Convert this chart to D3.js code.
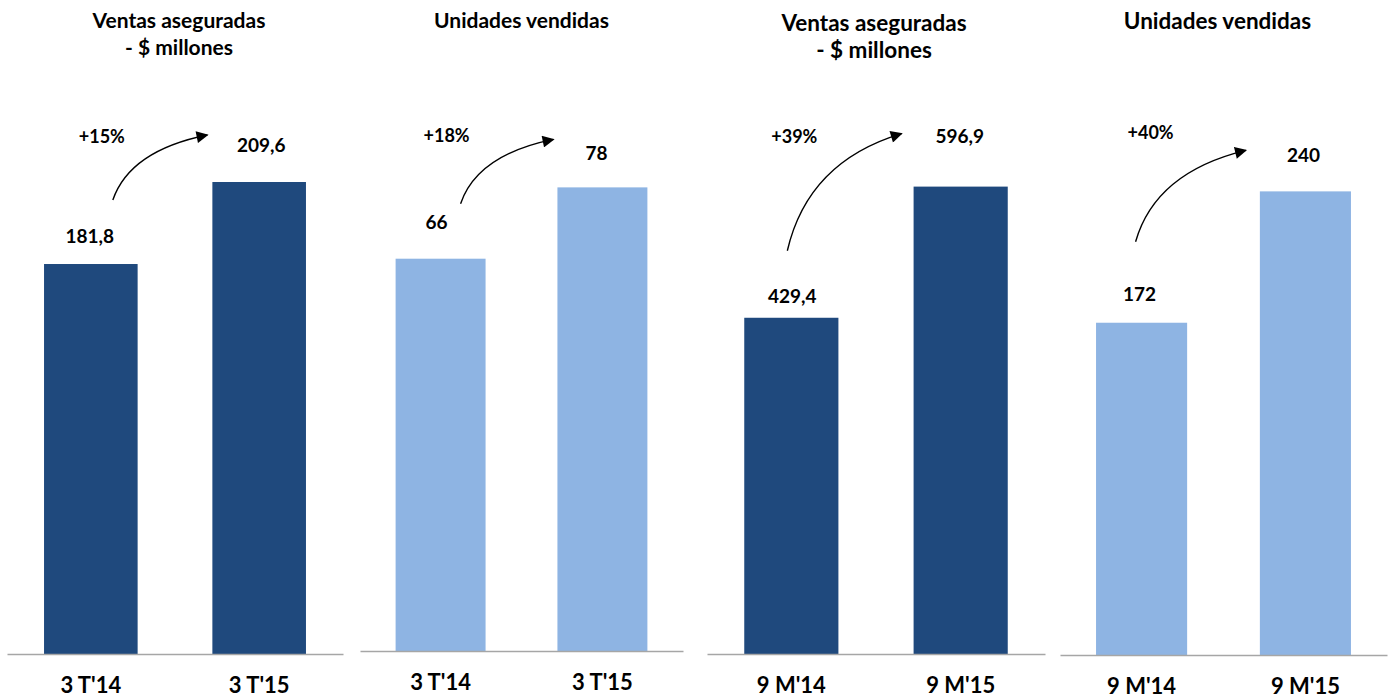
<!DOCTYPE html>
<html>
<head>
<meta charset="utf-8">
<script src="https://cdn.jsdelivr.net/npm/d3@7"></script>
<style>
  body { margin: 0; background: #fff; }
  text { font-family: Lato, "Open Sans", sans-serif; font-weight: bold; fill: #000; }
</style>
</head>
<body>
<div id="chart"></div>
<script>
// data
const panelTitles = [
    ["Ventas aseguradas", "- $ millones"],
    ["Unidades vendidas"],
    ["Ventas aseguradas", "- $ millones"],
    ["Unidades vendidas"]
]
const categories = [
    ["3 T'14", "3 T'15"],
    ["3 T'14", "3 T'15"],
    ["9 M'14", "9 M'15"],
    ["9 M'14", "9 M'15"]
]
const values = [
    [181.8, 209.6],
    [66, 78],
    [429.4, 596.9],
    [172, 240]
]
const valueLabels = [
    ["181,8", "209,6"],
    ["66", "78"],
    ["429,4", "596,9"],
    ["172", "240"]
]
const growthLabels = ["+15%", "+18%", "+39%", "+40%"]
// the first panel's bars are not drawn from zero in the original
const yDomains = [[49.6, 237.4], [0, 92.7], [0, 707.5], [0, 287.3]]

// layout
const width = 1394
const height = 699
const yTop = 100
const dark = "#1f497d"
const light = "#8eb4e3"
const panels = [
    { x0: 7,    x1: 343,  base: 654, color: dark,  titleDx: 4,  titleY: 28, titleSize: 21,   labelGap: [21, 30], labelDx: [-1, 2],  growthDx: 11, growthY: 143, arrow: [22, -64, -5, -47] },
    { x0: 360,  x1: 683,  base: 651, color: light, titleDx: 0,  titleY: 28, titleSize: 21,   labelGap: [30, 27], labelDx: [-4, -6], growthDx: 6,  growthY: 142, arrow: [20, -55, -4, -48] },
    { x0: 707,  x1: 1045, base: 654, color: dark,  titleDx: -2, titleY: 31, titleSize: 22.5, labelGap: [15, 44], labelDx: [1, -1],  growthDx: 3,  growthY: 143, arrow: [-4, -67, -12, -53] },
    { x0: 1060, x1: 1387, base: 655, color: light, titleDx: -6, titleY: 29, titleSize: 22.5, labelGap: [22, 29], labelDx: [-2, -2], growthDx: 9,  growthY: 139, arrow: [-6, -81, -14, -41] }
]

const svg = d3.select("#chart").append("svg")
    .attr("width", width)
    .attr("height", height)

svg.append("defs").append("marker")
    .attr("id", "arrowhead")
    .attr("viewBox", "0 0 10 10")
    .attr("refX", 9)
    .attr("refY", 5)
    .attr("markerUnits", "userSpaceOnUse")
    .attr("markerWidth", 13)
    .attr("markerHeight", 12)
    .attr("orient", "auto")
    .append("path")
    .attr("d", "M0,0 L10,5 L0,10 Z")
    .attr("fill", "#000")

panels.forEach((p, i) => {
    const g = svg.append("g")
    const cats = categories[i]

    const x = d3.scaleBand()
        .domain(cats)
        .range([p.x0, p.x1])
        .paddingInner(0.444)
        .paddingOuter(0.22)

    const y = d3.scaleLinear()
        .domain(yDomains[i])
        .range([p.base, yTop])

    // title, one or two lines
    const cx = (p.x0 + p.x1) / 2 + p.titleDx
    g.selectAll(".title")
        .data(panelTitles[i])
        .enter()
        .append("text")
        .attr("class", "title")
        .attr("x", cx)
        .attr("y", (d, j) => p.titleY + j * 27)
        .attr("text-anchor", "middle")
        .style("font-size", p.titleSize + "px")
        .text(d => d)

    // bars
    g.selectAll("rect")
        .data(values[i])
        .enter()
        .append("rect")
        .attr("x", (d, j) => x(cats[j]))
        .attr("y", d => y(d))
        .attr("width", x.bandwidth())
        .attr("height", d => p.base - y(d))
        .attr("fill", p.color)

    // baseline + category labels
    const axis = g.append("g")
        .attr("transform", `translate(0, ${p.base})`)
        .call(d3.axisBottom(x).tickSize(0).tickPadding(39).tickSizeOuter(0))
    axis.select(".domain")
        .attr("stroke", "#a6a6a6")
        .attr("stroke-width", 1.5)
    axis.selectAll(".tick text")
        .attr("dy", 0)
        .attr("fill", "#000")
        .style("font-family", "Lato, 'Open Sans', sans-serif")
        .style("font-weight", "bold")
        .style("font-size", "22px")

    // value labels
    g.selectAll(".value")
        .data(values[i])
        .enter()
        .append("text")
        .attr("class", "value")
        .attr("x", (d, j) => x(cats[j]) + x.bandwidth() / 2 + p.labelDx[j])
        .attr("y", (d, j) => y(d) - p.labelGap[j])
        .attr("text-anchor", "middle")
        .style("font-size", "19px")
        .text((d, j) => valueLabels[i][j])

    // growth arrow from the first bar to the second
    const sx = x(cats[0]) + x.bandwidth() / 2 + p.arrow[0]
    const sy = y(values[i][0]) + p.arrow[1]
    const ex = x(cats[1]) + p.arrow[2]
    const ey = y(values[i][1]) + p.arrow[3]
    const path = d3.path()
    path.moveTo(sx, sy)
    path.quadraticCurveTo(sx + 0.18 * (ex - sx), ey + 0.24 * (sy - ey), ex, ey)
    g.append("path")
        .attr("d", path.toString())
        .attr("fill", "none")
        .attr("stroke", "#000")
        .attr("stroke-width", 1.4)
        .attr("marker-end", "url(#arrowhead)")

    g.append("text")
        .attr("x", x(cats[0]) + x.bandwidth() / 2 + p.growthDx)
        .attr("y", p.growthY)
        .attr("text-anchor", "middle")
        .style("font-size", "18px")
        .text(growthLabels[i])
})
</script>
</body>
</html>
